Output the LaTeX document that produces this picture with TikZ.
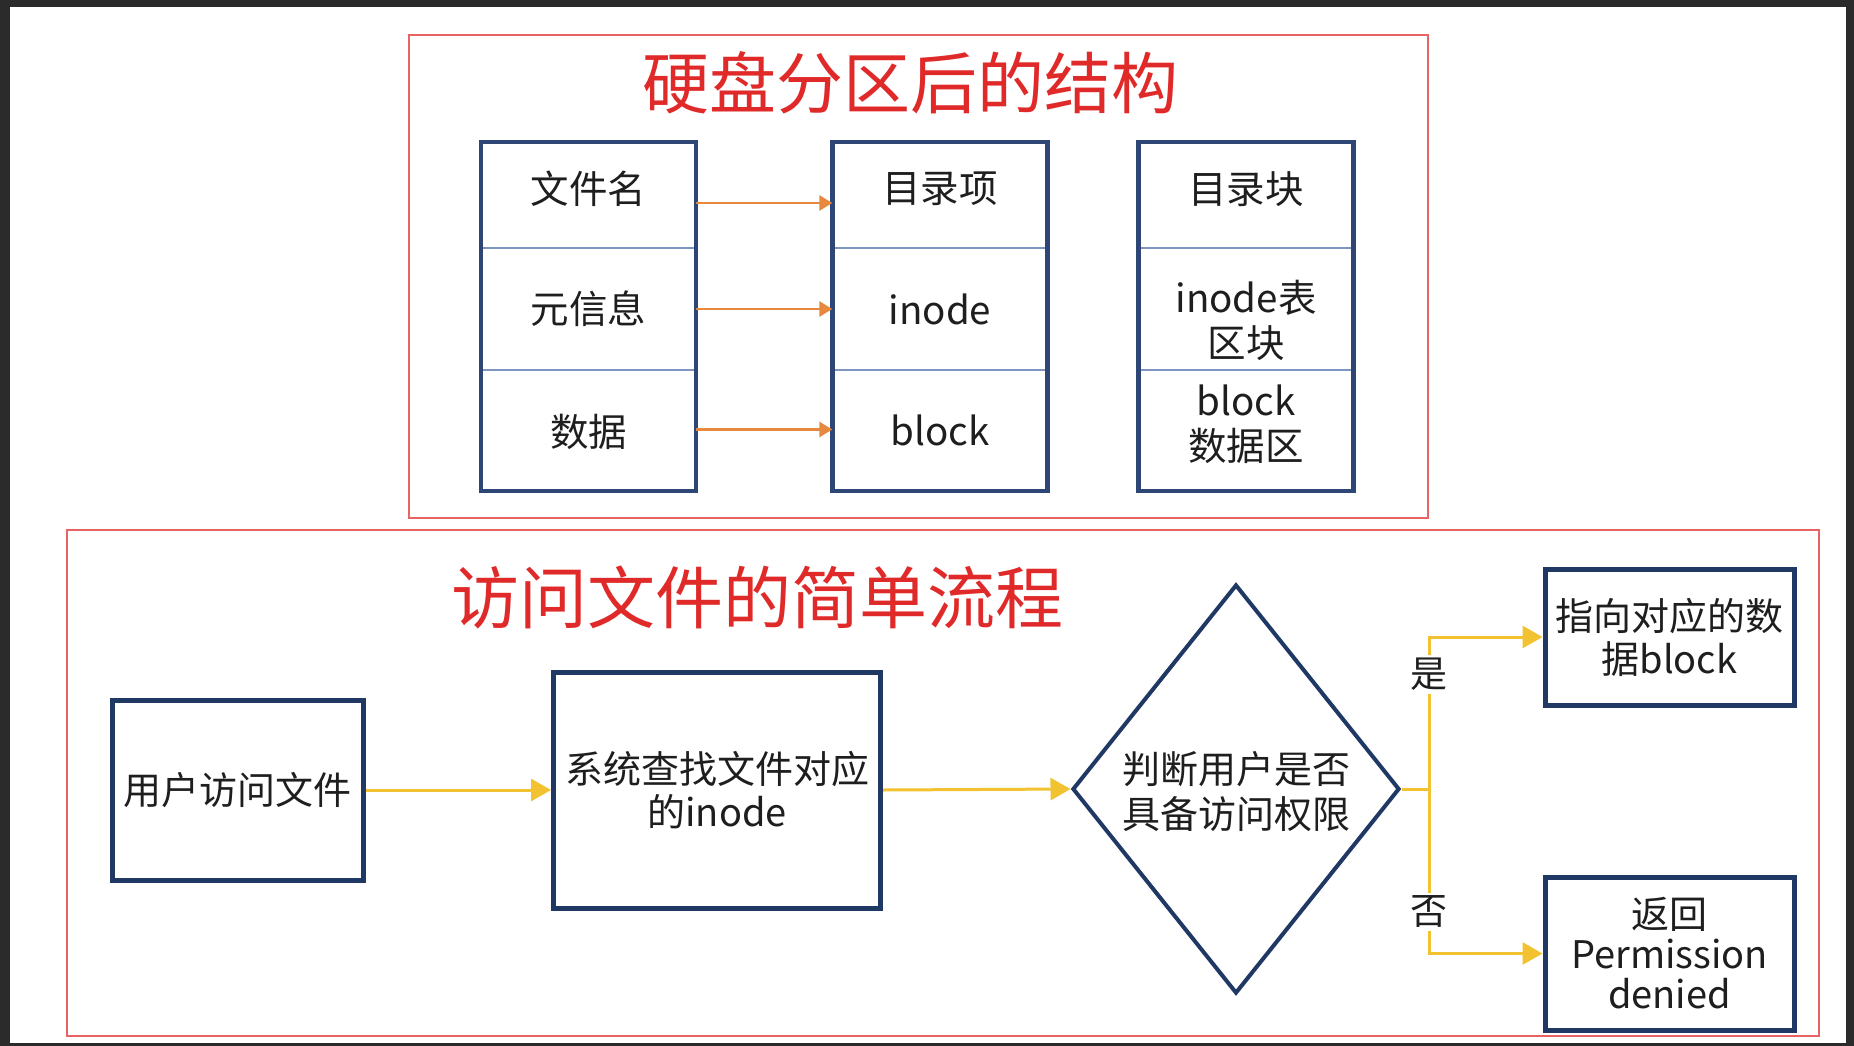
\documentclass[tikz,border=0pt]{standalone}
\usepackage{fontspec}
\setmainfont{Noto Sans CJK SC}
\usetikzlibrary{arrows.meta,shapes.geometric}
\definecolor{darkbg}{HTML}{2B2B2B}
\definecolor{frame}{HTML}{E86464}
\definecolor{navy}{HTML}{2E4676}
\definecolor{navyd}{HTML}{1F3864}
\definecolor{divcol}{HTML}{7D95C0}
\definecolor{orangearr}{HTML}{E8883E}
\definecolor{goldarr}{HTML}{F2C230}
\definecolor{titlered}{HTML}{E02A2A}
\definecolor{txt}{HTML}{1E1E1E}
\tikzset{
  redframe/.style={draw=frame, line width=2pt, inner sep=0pt},
  cellbox/.style={inner sep=0pt, minimum width=215pt},
  celltext/.style={text=txt, align=center, inner sep=0pt, font=\fontsize{38.5}{45}\selectfont},
  outerbox/.style={draw=navy, line width=4.5pt},
  divider/.style={draw=divcol, line width=2pt},
  oarrow/.style={draw=orangearr, line width=2.8pt, -{Triangle[length=13pt,width=15pt]}},
  flowbox/.style={draw=navyd, line width=5pt, inner sep=4pt, align=center, text=txt, font=\fontsize{38}{43}\selectfont},
  yline/.style={draw=goldarr, line width=3pt},
  yarrow/.style={draw=goldarr, line width=3pt, -{Triangle[length=20pt,width=22pt]}},
  titletext/.style={text=titlered, inner sep=0pt},
  branchlabel/.style={fill=white, text=txt, inner sep=3pt, font=\fontsize{37}{40}\selectfont}
}
\begin{document}
\begin{tikzpicture}[x=1pt,y=-1pt]
\fill[darkbg] (0,0) rectangle (1854,1046);
\fill[white] (10,7) rectangle (1846,1043);
\useasboundingbox (0,0) rectangle (1854,1046);

% frames
\node[redframe, minimum width=1019pt, minimum height=483pt] (topframe) at (918.5,276.5) {};
\node[redframe, minimum width=1752pt, minimum height=506pt] (botframe) at (943,783) {};

% titles
\node[titletext, font=\fontsize{67}{72}\selectfont] (title1) at (910,83) {硬盘分区后的结构};
\node[titletext, font=\fontsize{68}{74}\selectfont] (title2) at (757,597) {访问文件的简单流程};

% column 1
\node[cellbox, minimum height=106pt] (c1a) at (588.5,195) {};
\node[cellbox, minimum height=122pt] (c1b) at (588.5,309) {};
\node[cellbox, minimum height=121pt] (c1c) at (588.5,430.5) {};
% column 2
\node[cellbox, minimum height=106pt] (c2a) at (940,195) {};
\node[cellbox, minimum height=122pt] (c2b) at (940,309) {};
\node[cellbox, minimum height=121pt] (c2c) at (940,430.5) {};
% column 3
\node[cellbox, minimum height=106pt] (c3a) at (1246,195) {};
\node[cellbox, minimum height=122pt] (c3b) at (1246,309) {};
\node[cellbox, minimum height=121pt] (c3c) at (1246,430.5) {};

\foreach \c in {1,2,3}{
  \draw[divider] (c\c a.south west) -- (c\c a.south east);
  \draw[divider] (c\c b.south west) -- (c\c b.south east);
  \draw[outerbox] (c\c a.north west) rectangle (c\c c.south east);
}

% cell texts
\node[celltext] (t1a) at (588.5,189) {文件名};
\node[celltext] (t1b) at (588.5,309) {元信息};
\node[celltext] (t1c) at (588.5,432) {数据};
\node[celltext] (t2a) at (940,189) {目录项};
\node[celltext] (t2b) at (940,309) {inode};
\node[celltext] (t2c) at (940,430) {block};
\node[celltext] (t3a) at (1246,189) {目录块};
\node[celltext] (t3b) at (1246,320) {inode表\\区块};
\node[celltext] (t3c) at (1246,424) {block\\数据区};

% orange arrows
\draw[oarrow] ([yshift=-8pt]c1a.east) -- ([yshift=-8pt]c2a.west);
\draw[oarrow] (c1b.east) -- (c2b.west);
\draw[oarrow] ([yshift=1pt]c1c.east) -- ([yshift=1pt]c2c.west);

% flow
\node[flowbox, minimum width=251pt, minimum height=180pt] (user) at (237.5,790) {用户访问文件};
\node[flowbox, minimum width=327pt, minimum height=236pt] (sys) at (717,790) {系统查找文件对应\\的inode};
\node[diamond, draw=navyd, line width=4pt, inner sep=0pt, minimum width=327pt, minimum height=409pt] (judge) at (1236,789) {};
\node[text=txt, align=center, inner sep=0pt, font=\fontsize{38}{45}\selectfont] (judget) at (1236,792) {判断用户是否\\具备访问权限};
\node[flowbox, minimum width=249pt, minimum height=136pt] (okbox) at (1669.5,637) {指向对应的数\\据block};
\node[flowbox, minimum width=249pt, minimum height=153pt, font=\fontsize{38}{40}\selectfont] (denybox) at (1669.5,953.5) {返回\\Permission\\denied};
\coordinate (junc) at (1429,789);

\draw[yarrow] (user.east) -- (sys.west);
\draw[yarrow] (sys.east) -- (judge.west);
\draw[yline] (judge.east) -- (junc);
\draw[yarrow] (junc) |- node[branchlabel, pos=0.377] (yes) {是} (okbox.west);
\draw[yarrow] (junc) |- node[branchlabel, pos=0.373] (no) {否} (denybox.west);
\end{tikzpicture}
\end{document}
